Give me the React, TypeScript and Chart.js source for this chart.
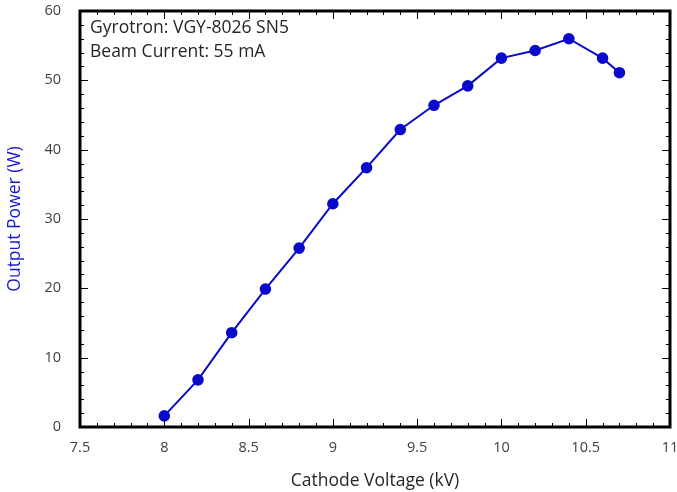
import React, { useEffect, useRef } from "react";
import { Chart, registerables } from "chart.js";

Chart.register(...registerables);

const voltages = [8.0, 8.2, 8.4, 8.6, 8.8, 9.0, 9.2, 9.4, 9.6, 9.8, 10.0, 10.2, 10.4, 10.6, 10.7];
const powers = [1.6, 6.8, 13.6, 19.9, 25.8, 32.2, 37.4, 42.9, 46.4, 49.2, 53.2, 54.3, 56.0, 53.2, 51.1];
const xTicks = [7.5, 8, 8.5, 9, 9.5, 10, 10.5, 11];
const yTicks = [0, 10, 20, 30, 40, 50, 60];
const noteLines = ["Gyrotron: VGY-8026 SN5", "Beam Current: 55 mA"];

const FONT = "'Open Sans', Lato, sans-serif";

const frameTicks = {
  id: "frameTicks",
  afterDraw(chart: any) {
    const { ctx, chartArea } = chart;
    const xs = chart.scales.x;
    const ys = chart.scales.y;
    const { left, right, top, bottom } = chartArea;
    ctx.save();
    ctx.strokeStyle = "#000";
    ctx.lineWidth = 1;
    for (let i = 0; i <= 35; i++) {
      const v = 7.5 + i * 0.1;
      const px = Math.round(xs.getPixelForValue(v)) + 0.5;
      const major = i % 5 === 0;
      const len = major ? 8 : 4;
      ctx.beginPath();
      ctx.moveTo(px, bottom);
      ctx.lineTo(px, bottom - len);
      ctx.moveTo(px, top);
      ctx.lineTo(px, top + len);
      ctx.stroke();
    }
    for (let i = 0; i <= 30; i++) {
      const v = i * 2;
      const py = Math.round(ys.getPixelForValue(v)) + 0.5;
      const major = i % 5 === 0;
      const len = major ? 8 : 4;
      ctx.beginPath();
      ctx.moveTo(left, py);
      ctx.lineTo(left + len, py);
      ctx.moveTo(right, py);
      ctx.lineTo(right - len, py);
      ctx.stroke();
    }
    ctx.lineWidth = 3;
    ctx.strokeRect(left, top, right - left, bottom - top);
    ctx.fillStyle = "#262626";
    ctx.font = `17.5px ${FONT}`;
    ctx.textBaseline = "middle";
    ctx.textAlign = "left";
    noteLines.forEach((t, i) => {
      ctx.fillText(t, left + 10, top + 17 + i * 24);
    });
    ctx.restore();
  },
};

export default function App() {
  const ref = useRef<HTMLCanvasElement | null>(null);
  useEffect(() => {
    if (!ref.current) return;
    const chart = new Chart(ref.current, {
      type: "line",
      data: {
        datasets: [
          {
            data: voltages.map((v, i) => ({ x: v, y: powers[i] })),
            borderColor: "#0a0acc",
            backgroundColor: "#0a0acc",
            borderWidth: 2,
            pointRadius: 4.8,
            pointHoverRadius: 4.8,
            tension: 0,
          },
        ],
      },
      options: {
        responsive: false,
        animation: false,
        events: [],
        layout: { padding: { top: 11, right: 7, left: 0, bottom: 0 } },
        plugins: { legend: { display: false }, tooltip: { enabled: false } },
        scales: {
          x: {
            type: "linear",
            min: 7.5,
            max: 11,
            afterBuildTicks: (s: any) => {
              s.ticks = xTicks.map((v) => ({ value: v }));
            },
            afterFit: (s: any) => {
              s.height = 65;
              s.paddingLeft = 0;
              s.paddingRight = 0;
            },
            grid: { display: false, drawTicks: false },
            border: { display: false },
            ticks: {
              color: "#404040",
              font: { family: FONT, size: 14.5 },
              padding: 12,
              maxRotation: 0,
              callback: (v: any) => String(v),
            },
            title: {
              display: true,
              text: "Cathode Voltage (kV)",
              color: "#262626",
              font: { family: FONT, size: 17.5 },
              padding: { top: 4, bottom: 0 },
            },
          },
          y: {
            type: "linear",
            min: 0,
            max: 60,
            afterBuildTicks: (s: any) => {
              s.ticks = yTicks.map((v) => ({ value: v }));
            },
            afterFit: (s: any) => {
              s.width = 80;
              s.paddingTop = 0;
              s.paddingBottom = 0;
            },
            grid: { display: false, drawTicks: false },
            border: { display: false },
            ticks: {
              color: "#404040",
              font: { family: FONT, size: 14.5 },
              padding: 19,
              callback: (v: any) => String(v),
            },
            title: {
              display: true,
              text: "Output Power (W)",
              color: "#1a1acc",
              font: { family: FONT, size: 17.5 },
              padding: { top: 5, bottom: 0 },
            },
          },
        },
      },
      plugins: [frameTicks],
    });
    return () => chart.destroy();
  }, []);
  return (
    <div style={{ position: "fixed", left: 0, top: 0, width: 677, height: 492, background: "#fff" }}>
      <canvas ref={ref} width={677} height={492} />
    </div>
  );
}
